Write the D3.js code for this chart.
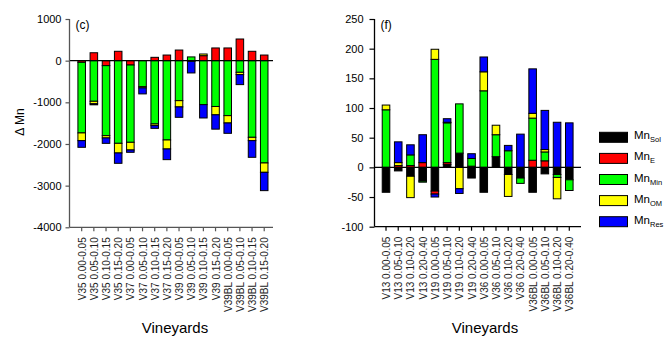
<!DOCTYPE html>
<html><head><meta charset="utf-8">
<script src="https://cdn.jsdelivr.net/npm/d3@7"></script>
<style>body{margin:0;background:#fff}svg{display:block;font-family:"Liberation Sans",Arial,sans-serif}</style>
</head><body><svg id="c" width="667" height="340"></svg>
<script>
const keys = ["Sol","E","Min","OM","Res"];
const colors = ["#000000","#ff0000","#00ff00","#ffff00","#0000ff"];

const catsC = ["V35 0.00-0.05","V35 0.05-0.10","V35 0.10-0.15","V35 0.15-0.20","V37 0.00-0.05","V37 0.05-0.10","V37 0.10-0.15","V37 0.15-0.20","V39 0.00-0.05","V39 0.05-0.10","V39 0.10-0.15","V39 0.15-0.20","V39BL 0.00-0.05","V39BL 0.05-0.10","V39BL 0.10-0.15","V39BL 0.15-0.20"];
const solC = [0,0,0,0,0,0,0,0,0,-15,0,0,0,0,0,0];
const eC   = [-40,190,-120,225,-105,0,80,135,255,0,120,305,305,520,225,135];
const minC = [-1695,-975,-1680,-1984,-1855,-624,-1520,-1904,-960,90,-1056,-1100,-1320,-280,-1840,-2456];
const omC  = [-185,-60,-55,-232,-184,-30,-40,-216,-150,0,40,-200,-176,-55,-80,-224];
const resC = [-160,-25,-130,-248,-56,-144,-65,-256,-250,-280,-320,-344,-248,-240,-400,-440];
const ticksC = [1000,0,-1000,-2000,-3000,-4000];

const catsF = ["V13 0.00-0.05","V13 0.05-0.10","V13 0.10-0.20","V13 0.20-0.40","V19 0.00-0.05","V19 0.05-0.10","V19 0.10-0.20","V19 0.20-0.40","V36 0.00-0.05","V36 0.05-0.10","V36 0.10-0.20","V36 0.20-0.40","V36BL 0.00-0.05","V36BL 0.05-0.10","V36BL 0.10-0.20","V36BL 0.20-0.40"];
const solF = [-42,-6,-15,-23,-40,5,24,-18,-42,18,-12,-18,-42,-11,-12,-21];
const eF   = [0,3,3,8,-5,3,0,2,0,0,0,0,12,11,0,0];
const minF = [97,0,18,-2,182,67,83,13,129,37,28,-9,71,15,-5,-18];
const omF  = [8,5,-36,0,17,1,-36,0,32,16,-37,0,8,4,-36,0];
const resF = [0,35,17,47,-5,6,-8,8,25,0,9,56,75,66,76,75];
const ticksF = [250,200,150,100,50,0,-50,-100];

const svg = d3.select("#c");

function panel(o){
  const rows = o.cats.map((c,i)=>({cat:c, Sol:o.series[0][i], E:o.series[1][i], Min:o.series[2][i], OM:o.series[3][i], Res:o.series[4][i]}));
  const x = d3.scaleBand().domain(o.cats).range(o.xr).paddingInner(0.38).paddingOuter(0.19);
  const y = d3.scaleLinear().domain(o.yd).range(o.yr);
  const stack = d3.stack().keys(keys).offset(d3.stackOffsetDiverging)(rows);
  const g = svg.append("g");
  stack.forEach((s,si)=>{
    g.append("g").selectAll("rect").data(s.filter(d=>d[1]!==d[0])).join("rect")
      .attr("x", d=>x(d.data.cat)).attr("width", x.bandwidth())
      .attr("y", d=>y(Math.max(d[0],d[1]))).attr("height", d=>Math.abs(y(d[0])-y(d[1])))
      .attr("fill", colors[si]).attr("stroke","#000").attr("stroke-width",1);
  });
  g.append("line").attr("x1",o.ax).attr("x2",o.xend).attr("y1",y(0)).attr("y2",y(0)).attr("stroke","#000").attr("stroke-width",1.2);
  const ya = g.append("g").attr("transform",`translate(${o.ax},0)`)
    .call(d3.axisLeft(y).tickValues(o.ticks).tickSize(o.tick).tickPadding(o.pad).tickFormat(d=>String(d)));
  ya.select(".domain").remove();
  ya.append("line").attr("x1",0).attr("x2",0).attr("y1",o.yr[1]).attr("y2",o.yr[0]).attr("stroke",o.axc).attr("stroke-width",1.3);
  ya.selectAll(".tick line").attr("stroke",o.axc).attr("stroke-width",1.2);
  ya.selectAll("text").attr("font-size",11).attr("fill","#000");
  const xa = g.append("g").attr("transform",`translate(0,${o.yr[0]})`)
    .call(d3.axisBottom(x).tickSize(4).tickFormat(""));
  xa.select(".domain").remove();
  xa.append("line").attr("x1",o.ax).attr("x2",o.xend).attr("y1",0).attr("y2",0).attr("stroke",o.axc).attr("stroke-width",1.3);
  xa.selectAll(".tick line").attr("stroke",o.axc).attr("stroke-width",1.2);
  g.append("g").selectAll("text").data(o.cats).join("text")
    .attr("transform", d=>`translate(${x(d)+x.bandwidth()/2+0.5},${o.yr[0]+10}) rotate(-90)`)
    .attr("text-anchor","end").attr("dy","0.35em").attr("font-size",10).attr("fill","#222").text(d=>d);
  g.append("text").attr("x",o.xlab).attr("y",333).attr("text-anchor","middle").attr("font-size",15).text("Vineyards");
  g.append("text").attr("x",o.ax+6).attr("y",29).attr("font-size",12).text(o.label);
}

panel({cats:catsC, series:[solC,eC,minC,omC,resC], xr:[75.6,270.3], yd:[-4000,1000], yr:[227.3,19], ticks:ticksC,
  ax:69.5, xend:273, tick:4, pad:4, axc:"#555", xlab:175, label:"(c)"});
panel({cats:catsF, series:[solF,eF,minF,omF,resF], xr:[379.9,575.4], yd:[-100,250], yr:[226.7,19], ticks:ticksF,
  ax:374.5, xend:581, tick:5, pad:6, axc:"#000", xlab:485, label:"(f)"});

svg.append("text").attr("transform","translate(24,122) rotate(-90)").attr("text-anchor","middle").attr("font-size",12).text("Δ Mn");

const lg = svg.append("g");
keys.forEach((k,i)=>{
  const cy = 137.3 + i*21.1;
  lg.append("rect").attr("x",599.5).attr("y",cy-5).attr("width",28).attr("height",10).attr("fill",colors[i]).attr("stroke","#000").attr("stroke-width",1);
  const t = lg.append("text").attr("x",634).attr("y",cy+2).attr("font-size",11.5);
  t.append("tspan").text("Mn");
  t.append("tspan").attr("dy",3).attr("font-size",7.5).text(k);
});
</script></body></html>
